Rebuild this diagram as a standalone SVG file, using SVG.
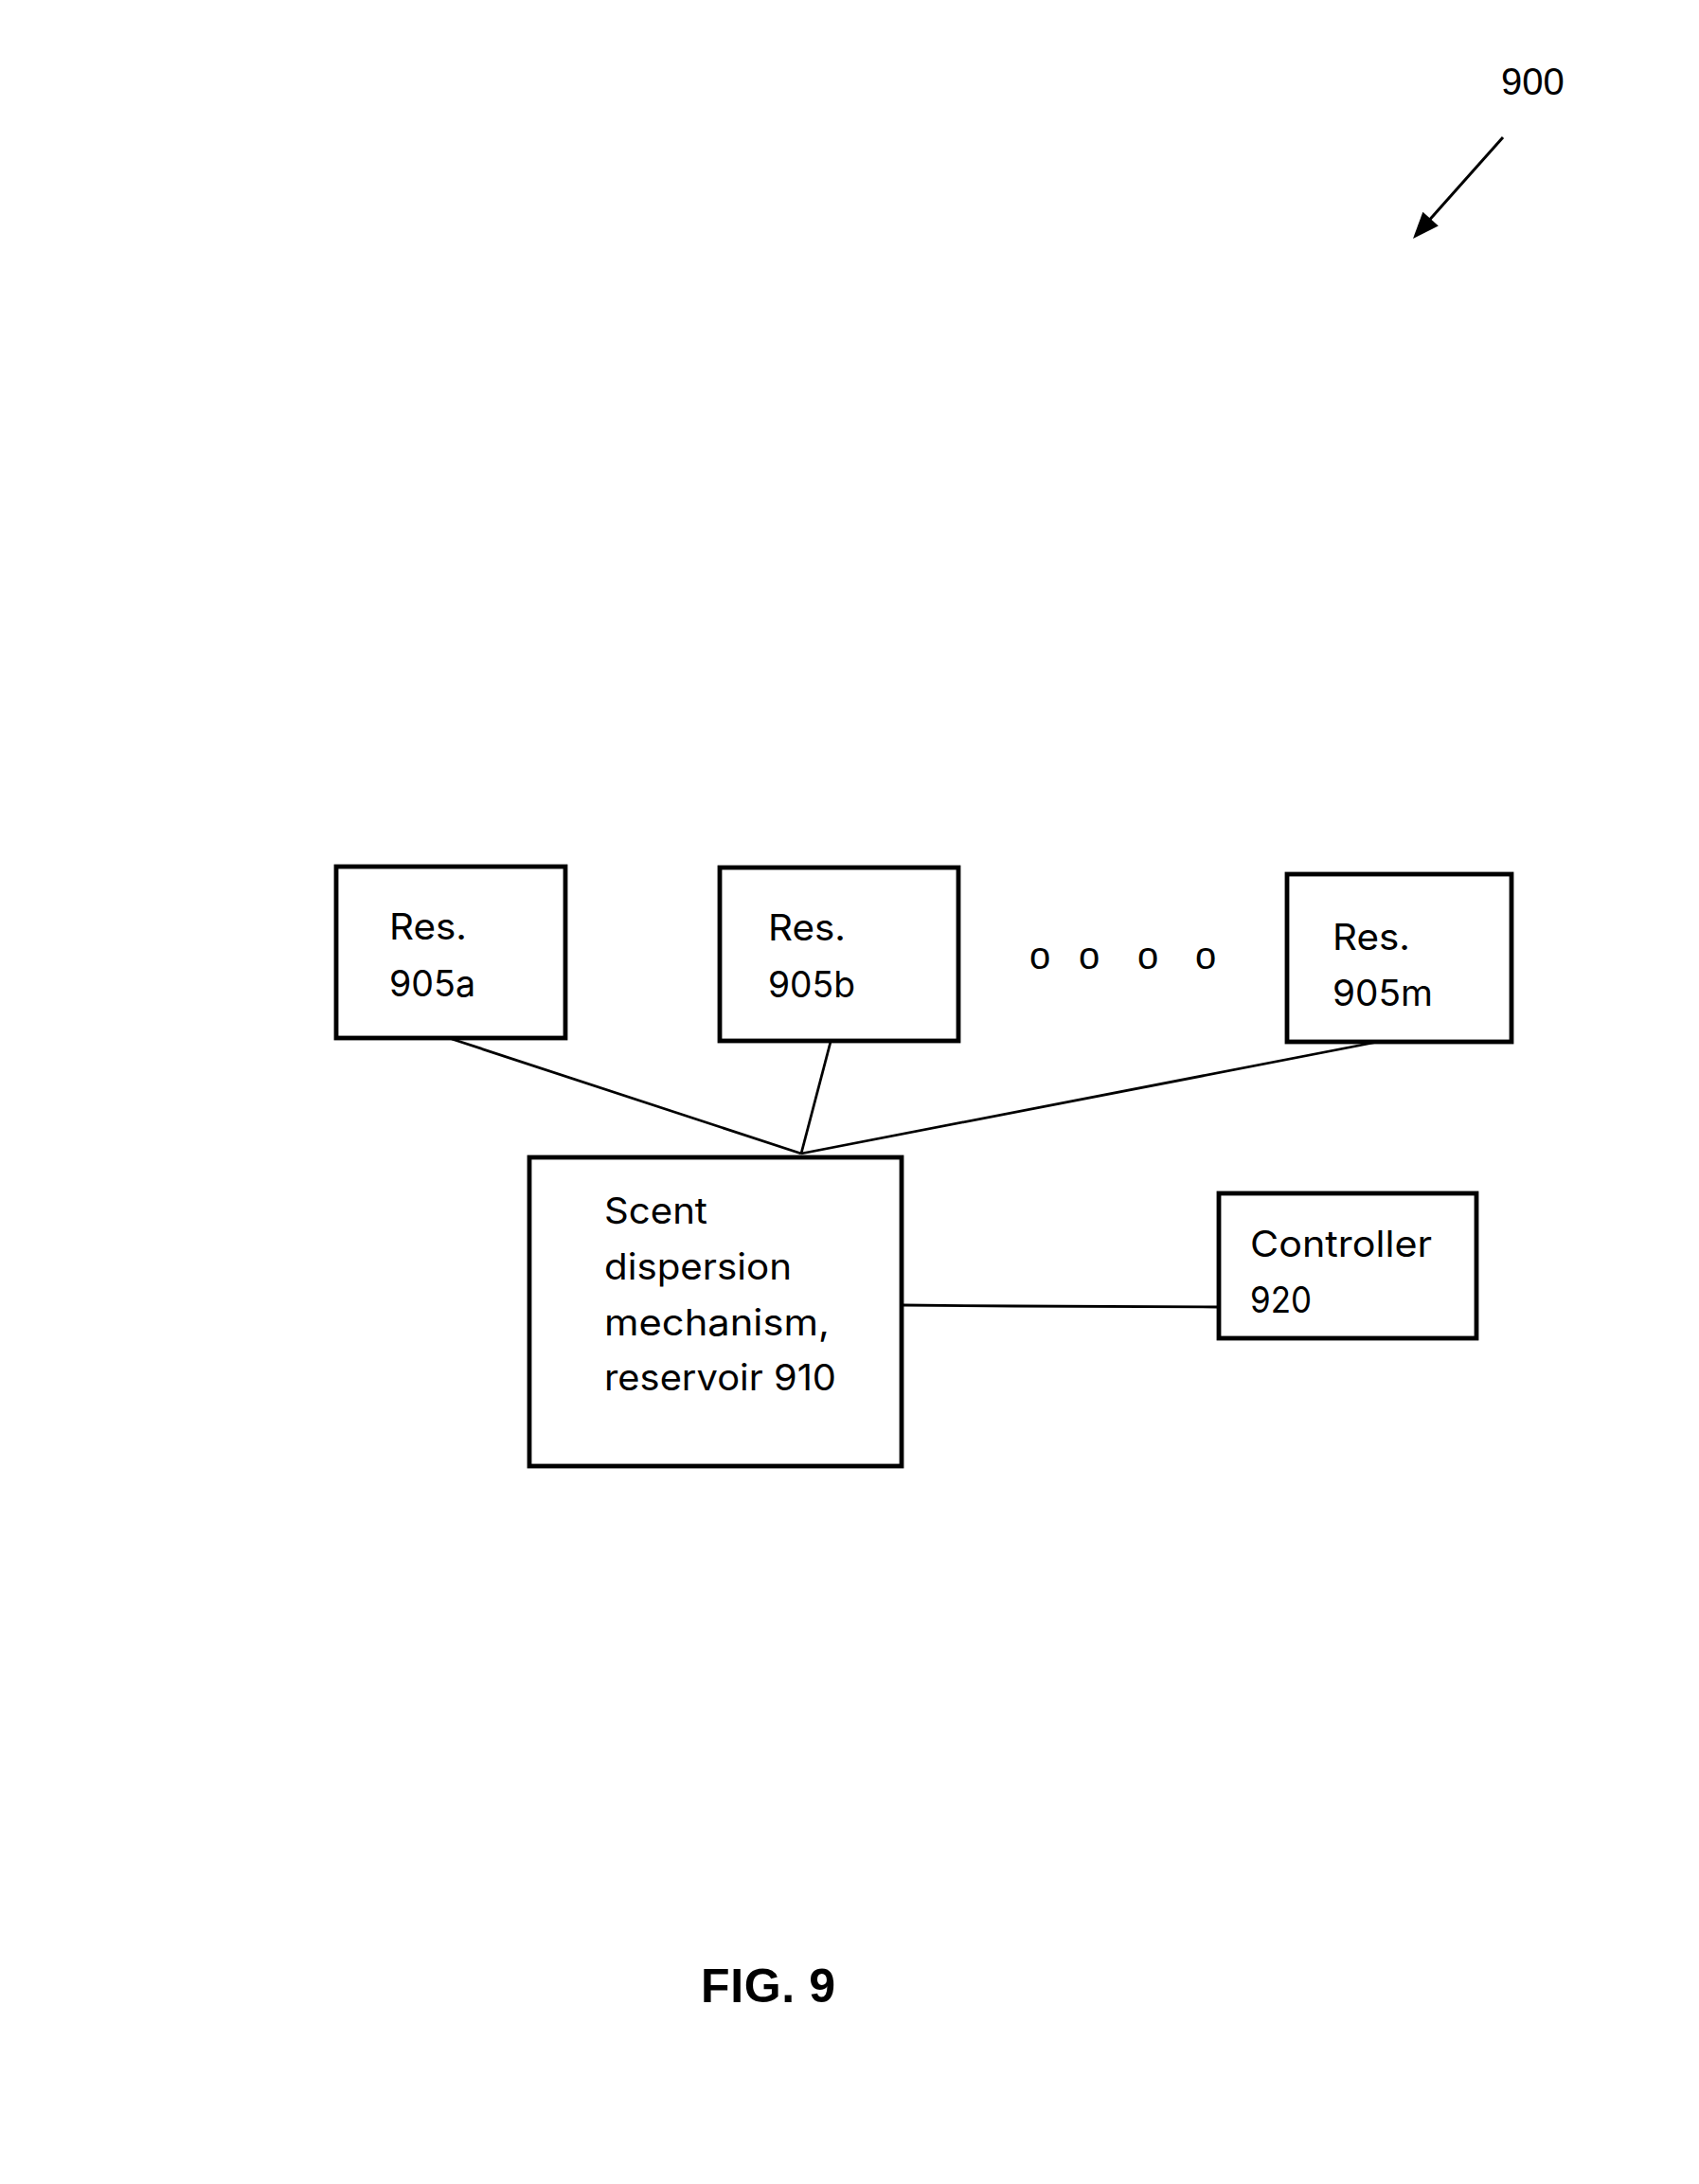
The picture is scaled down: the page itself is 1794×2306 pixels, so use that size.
<svg xmlns="http://www.w3.org/2000/svg" width="1794" height="2306" viewBox="0 0 1794 2306">
<style>
.box{fill:#fff;stroke:#000;stroke-width:4.8}
.lbl{font-family:Inter,"Liberation Sans",sans-serif;font-size:38.5px;fill:#000}
.conn{stroke:#000;stroke-width:2.8;fill:none}
.ref{font-family:"Liberation Sans",Arial,sans-serif;font-size:40px;fill:#000}
</style>
<rect width="1794" height="2306" fill="#fff"/>
<g id="label-900">
<text class="ref" x="1585" y="100">900</text>
<line x1="1587" y1="145" x2="1498" y2="245" stroke="#000" stroke-width="3"/>
<polygon points="1492,252 1502.4,223.8 1518.8,238.4" fill="#000"/>
</g>
<g id="connectors">
<line class="conn" x1="477" y1="1097" x2="846" y2="1218"/>
<line class="conn" x1="877" y1="1100" x2="846" y2="1218"/>
<line class="conn" x1="1455" y1="1100" x2="846" y2="1218"/>
<polyline class="conn" points="953,1378 1070,1379 1285,1380"/>
</g>
<g id="res-905a">
<rect class="box" x="355" y="915" width="242" height="181"/>
<text class="lbl" x="411" y="992" textLength="82" lengthAdjust="spacingAndGlyphs">Res.</text>
<text class="lbl" x="411" y="1052" textLength="91" lengthAdjust="spacingAndGlyphs">905a</text>
</g>
<g id="res-905b">
<rect class="box" x="760" y="916" width="252" height="183"/>
<text class="lbl" x="811" y="993" textLength="82" lengthAdjust="spacingAndGlyphs">Res.</text>
<text class="lbl" x="811" y="1053" textLength="92" lengthAdjust="spacingAndGlyphs">905b</text>
</g>
<g id="dots">
<text class="ref" x="1098" y="1023" text-anchor="middle">o</text>
<text class="ref" x="1150" y="1023" text-anchor="middle">o</text>
<text class="ref" x="1212" y="1023" text-anchor="middle">o</text>
<text class="ref" x="1273" y="1023" text-anchor="middle">o</text>
</g>
<g id="res-905m">
<rect class="box" x="1359" y="923" width="237" height="177"/>
<text class="lbl" x="1407" y="1003" textLength="82" lengthAdjust="spacingAndGlyphs">Res.</text>
<text class="lbl" x="1407" y="1062" textLength="106" lengthAdjust="spacingAndGlyphs">905m</text>
</g>
<g id="scent-910">
<rect class="box" x="559" y="1222" width="393" height="326"/>
<text class="lbl" x="638" y="1292" textLength="109" lengthAdjust="spacingAndGlyphs">Scent</text>
<text class="lbl" x="638" y="1351" textLength="198" lengthAdjust="spacingAndGlyphs">dispersion</text>
<text class="lbl" x="638" y="1410" textLength="238" lengthAdjust="spacingAndGlyphs">mechanism,</text>
<text class="lbl" x="638" y="1468" textLength="245" lengthAdjust="spacingAndGlyphs">reservoir 910</text>
</g>
<g id="controller-920">
<rect class="box" x="1287" y="1260" width="272" height="153"/>
<text class="lbl" x="1320" y="1327" textLength="192" lengthAdjust="spacingAndGlyphs">Controller</text>
<text class="lbl" x="1320" y="1386" textLength="65" lengthAdjust="spacingAndGlyphs">920</text>
</g>
<g id="caption">
<text x="740" y="2114" font-family="'Liberation Sans',Arial,sans-serif" font-weight="bold" font-size="50" textLength="142">FIG. 9</text>
</g>
</svg>
